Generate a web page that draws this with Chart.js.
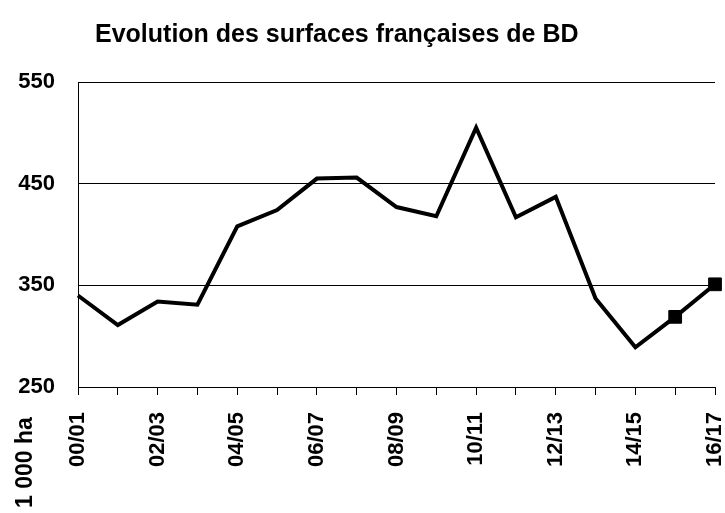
<!DOCTYPE html>
<html>
<head>
<meta charset="utf-8">
<script src="https://cdn.jsdelivr.net/npm/chart.js@4/dist/chart.umd.min.js"></script>
<style>
  html, body { margin: 0; padding: 0; background: #fff; }
  #wrap { width: 725px; height: 513px; position: relative; }
</style>
</head>
<body>
<div id="wrap"><canvas id="surfaces"></canvas></div>
<script>
const seasons = [
  '00/01','01/02','02/03','03/04','04/05','05/06','06/07','07/08','08/09',
  '09/10','10/11','11/12','12/13','13/14','14/15','15/16','16/17'
];
const surfaces = [340, 311, 334, 331, 408, 424, 455, 456, 427, 418, 505, 417, 437, 337, 289, 319, 351];
// the two latest seasons get a square marker
const markerRadius = [0,0,0,0,0,0,0,0,0,0,0,0,0,0,0,9,9];
const yTicks = [250, 350, 450, 550];

const chartTitle = 'Evolution des surfaces françaises de BD';
const unitLabel = '1 000 ha';

const FONT = 'Arial, "Liberation Sans", sans-serif';

// title and unit drawn straight on the canvas
const textPlugin = {
  id: 'textPlugin',
  afterDraw(chart) {
    const ctx = chart.ctx;
    ctx.save();
    ctx.fillStyle = '#000';
    ctx.font = 'bold 25px ' + FONT;
    ctx.textBaseline = 'alphabetic';
    ctx.textAlign = 'left';
    ctx.fillText(chartTitle, 95, 42);

    ctx.font = 'bold 23px ' + FONT;
    ctx.translate(32, 508);
    ctx.rotate(-Math.PI / 2);
    ctx.fillText(unitLabel, 0, 0);
    ctx.restore();
  }
};

new Chart(document.getElementById('surfaces'), {
  type: 'line',
  data: {
    labels: seasons,
    datasets: [{
      data: surfaces,
      borderColor: '#000',
      borderWidth: 4,
      tension: 0,
      fill: false,
      pointStyle: 'rect',
      pointRadius: markerRadius,
      pointBackgroundColor: '#000',
      pointBorderColor: '#000',
      pointBorderWidth: 1,
      clip: false
    }]
  },
  options: {
    responsive: true,
    maintainAspectRatio: false,
    animation: false,
    devicePixelRatio: 1,
    layout: { padding: { top: 82, right: 8, bottom: 0, left: 0 } },
    plugins: {
      legend: { display: false },
      tooltip: { enabled: false },
      title: { display: false }
    },
    scales: {
      x: {
        grid: { drawOnChartArea: false, drawTicks: true, tickLength: 8, color: '#000' },
        border: { color: '#000', width: 1 },
        ticks: {
          autoSkip: false,
          minRotation: 90,
          maxRotation: 90,
          padding: 17,
          color: '#000',
          font: { family: FONT, size: 22, weight: 'bold' },
          callback: (v, i) => (i % 2 === 0 ? seasons[i] : '')
        },
        afterFit(scale) {
          scale.height = 126;
          scale.paddingLeft = 0;
          scale.paddingRight = 0;
        }
      },
      y: {
        min: 250,
        max: 550,
        afterBuildTicks(scale) { scale.ticks = yTicks.map(v => ({ value: v })); },
        grid: { drawTicks: false, color: '#000', lineWidth: 1 },
        border: { color: '#000', width: 1 },
        ticks: {
          padding: 23,
          color: '#000',
          font: { family: FONT, size: 22, weight: 'bold' }
        },
        afterFit(scale) {
          scale.width = 78;
          scale.paddingTop = 0;
          scale.paddingBottom = 0;
        }
      }
    }
  },
  plugins: [textPlugin]
});
</script>
</body>
</html>
